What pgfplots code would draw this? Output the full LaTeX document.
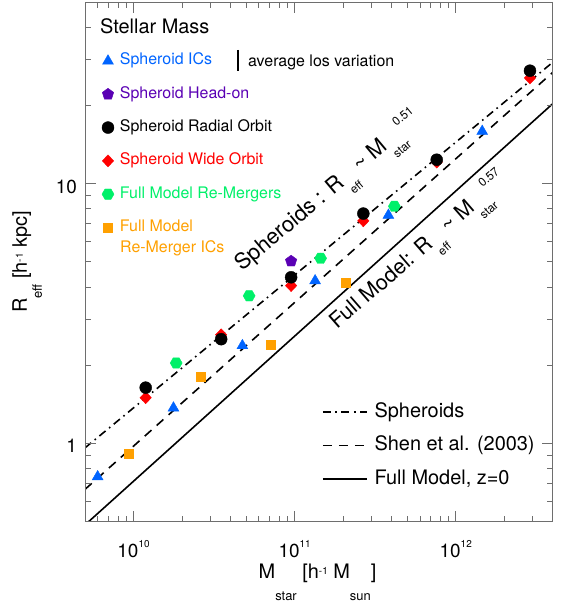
\documentclass[border=0pt]{standalone}
\usepackage{fontspec}
\setmainfont{TeX Gyre Heros}
\usepackage{pgfplots}
\pgfplotsset{compat=1.18}
\usetikzlibrary{plotmarks}

\definecolor{cBlue}{RGB}{0,100,255}
\definecolor{cPurple}{RGB}{90,0,180}
\definecolor{cRed}{RGB}{255,0,0}
\definecolor{cGreen}{RGB}{0,240,105}
\definecolor{cOrange}{RGB}{255,160,0}
\definecolor{cFrame}{RGB}{110,110,110}

\pgfdeclareplotmark{hexagon*}{%
  \pgfpathmoveto{\pgfqpointpolar{0}{\pgfplotmarksize}}%
  \pgfpathlineto{\pgfqpointpolar{60}{\pgfplotmarksize}}%
  \pgfpathlineto{\pgfqpointpolar{120}{\pgfplotmarksize}}%
  \pgfpathlineto{\pgfqpointpolar{180}{\pgfplotmarksize}}%
  \pgfpathlineto{\pgfqpointpolar{240}{\pgfplotmarksize}}%
  \pgfpathlineto{\pgfqpointpolar{300}{\pgfplotmarksize}}%
  \pgfpathclose\pgfusepathqfillstroke}
\pgfdeclareplotmark{rdiamond*}{%
  \pgfpathmoveto{\pgfqpoint{0pt}{\pgfplotmarksize}}%
  \pgfpathlineto{\pgfqpoint{0.95\pgfplotmarksize}{0pt}}%
  \pgfpathlineto{\pgfqpoint{0pt}{-\pgfplotmarksize}}%
  \pgfpathlineto{\pgfqpoint{-0.95\pgfplotmarksize}{0pt}}%
  \pgfpathclose\pgfusepathqfillstroke}

\newcommand\fsz[1]{\fontsize{#1}{#1}\selectfont}
% tick exponent
\newcommand\tsup[1]{\raisebox{10bp}{\fsz{10}#1}}
% axis-label sub/sup
\newcommand\xsub[1]{\raisebox{-22bp}{\fsz{13}#1}}
\newcommand\ysub[1]{\raisebox{-15bp}{\fsz{13}#1}}
\newcommand\lsup[1]{\raisebox{4bp}{\fsz{10}#1}}
% in-plot text sub/sup
\newcommand\rsub[1]{\raisebox{-13bp}{\fsz{12}#1}}
\newcommand\rsup[1]{\raisebox{12bp}{\fsz{12}#1}}

\begin{document}
\begin{tikzpicture}
\useasboundingbox (-85bp,-82.3bp) rectangle (481bp,521.7bp);

% ---------- relation lines (drawn first, below the markers) ----------
\begin{axis}[
  at={(0,0)}, anchor=south west, scale only axis,
  width=467.7bp, height=519.7bp,
  xmode=log, ymode=log,
  xmin=5e9, xmax=4e12, ymin=0.5, ymax=50,
  hide axis,
  legend cell align=left,
  legend image code/.code={\draw[#1] (0bp,0bp) -- (44bp,0bp);},
  legend style={draw=none, fill=none, at={(0.5067,0.2303)}, anchor=north west,
    inner sep=0pt, outer sep=0pt, row sep=13.5bp, column sep=7bp,
    font=\fsz{20},
    nodes={inner sep=0pt, text height=15bp, text depth=5bp}},
]
\addplot[black, line width=1.6bp, dash pattern=on 8bp off 4.5bp on 1.6bp off 4.5bp]
  coordinates {(5e9,0.962) (4e12,29.3)};
\addlegendentry{Spheroids}
\addplot[black, line width=1.6bp, dash pattern=on 9bp off 7bp]
  coordinates {(5e9,0.666) (4e12,26.8)};
\addlegendentry{Shen et al. (2003)}
\addplot[black, line width=1.6bp]
  coordinates {(5e9,0.486) (4e12,20.3)};
\addlegendentry{Full Model, z=0}
\end{axis}

% ---------- main axis with data markers ----------
\begin{axis}[
  at={(0,0)}, anchor=south west, scale only axis,
  width=467.7bp, height=519.7bp,
  xmode=log, ymode=log,
  xmin=5e9, xmax=4e12, ymin=0.5, ymax=50,
  axis line style={cFrame, line width=0.8bp},
  every tick/.style={cFrame, line width=0.8bp},
  tick align=inside,
  major tick length=11bp, minor tick length=6bp,
  xtick={1e10,1e11,1e12},
  xticklabels={10\tsup{10},10\tsup{11},10\tsup{12}},
  minor xtick={6e9,7e9,8e9,9e9,2e10,3e10,4e10,5e10,6e10,7e10,8e10,9e10,2e11,3e11,4e11,5e11,6e11,7e11,8e11,9e11,2e12,3e12,4e12},
  ytick={1,10},
  yticklabels={1,10},
  minor ytick={0.6,0.7,0.8,0.9,2,3,4,5,6,7,8,9,20,30,40},
  xticklabel style={anchor=base, yshift=-35.3bp, inner sep=0pt, font=\fsz{19}},
  yticklabel style={anchor=base east, xshift=-8bp, yshift=-9.5bp, inner sep=0pt, font=\fsz{19}},
  legend cell align=left,
  legend image code/.code={\draw[mark repeat=2,mark phase=2,#1] plot coordinates {(0bp,0bp) (6bp,0bp) (12bp,0bp)};},
  legend style={draw=none, fill=none, at={(0.0363,0.9019)}, anchor=north west,
    inner sep=0pt, outer sep=0pt, row sep=17.3bp, column sep=6bp,
    font=\fsz{16},
    nodes={inner sep=0pt, text height=12bp, text depth=4bp}},
]
\addplot[only marks, mark=triangle*, mark size=6.3bp, color=cBlue]
  coordinates {(5.99e9,0.745) (1.77e10,1.37) (4.74e10,2.38) (1.34e11,4.23) (3.82e11,7.56) (1.46e12,15.9)};
\addlegendentry{\textcolor{cBlue}{Spheroid ICs}}
\addplot[only marks, mark=pentagon*, mark size=6bp, color=cPurple]
  coordinates {(9.51e10,5.03)};
\addlegendentry{\textcolor{cPurple}{Spheroid Head-on}}
\addplot[only marks, mark=rdiamond*, mark size=6bp, color=cRed, forget plot]
  coordinates {(1.19e10,1.50) (3.50e10,2.62) (9.51e10,4.05) (2.67e11,7.19) (7.62e11,12.1) (2.89e12,25.5)};
\addplot[only marks, mark=*, mark size=6bp, color=black]
  coordinates {(1.19e10,1.64) (3.50e10,2.52) (9.51e10,4.36) (2.67e11,7.67) (7.62e11,12.36) (2.89e12,27.2)};
\addlegendentry{Spheroid Radial Orbit}
\addlegendimage{only marks, mark=rdiamond*, mark size=6bp, color=cRed}
\addlegendentry{\textcolor{cRed}{Spheroid Wide Orbit}}
\addplot[only marks, mark=hexagon*, mark size=6bp, color=cGreen]
  coordinates {(1.84e10,2.04) (5.22e10,3.70) (1.45e11,5.16) (4.16e11,8.18)};
\addlegendentry{\textcolor{cGreen}{Full Model Re-Mergers}}
\addplot[only marks, mark=square*, mark size=4.5bp, color=cOrange]
  coordinates {(9.27e9,0.916) (2.62e10,1.80) (7.11e10,2.40) (2.08e11,4.17)};
\addlegendentry{\textcolor{cOrange}{Full Model}}
\end{axis}

% ---------- texts ----------
\node[anchor=base west, inner sep=0pt, font=\fsz{20}] at (15bp,487.7bp) {Stellar Mass};
\draw[black, line width=1.8bp] (153bp,471.7bp) -- (153bp,450.7bp);
\node[anchor=base west, inner sep=0pt, font=\fsz{16}] at (163bp,454.7bp) {average los variation};
\node[anchor=base west, inner sep=0pt, font=\fsz{16}, text=cOrange] at (35bp,268.7bp) {Re-Merger ICs};

\node[rotate=40, anchor=base west, inner sep=0pt, font=\fsz{22}] at (157.5bp,250bp)
  {Spheroids : R\rsub{eff} \textasciitilde{} M\rsub{star}\rsup{0.51}};
\node[rotate=41, anchor=base west, inner sep=0pt, font=\fsz{21.5}] at (252.5bp,191.7bp)
  {Full Model: R\rsub{eff} \textasciitilde{} M\rsub{star}\rsup{0.57}};

\node[anchor=base, inner sep=0pt, font=\fsz{20}] at (232.5bp,-56.3bp)
  {M\xsub{star} [h\lsup{-1} M\xsub{sun}]};
\node[rotate=90, anchor=base, inner sep=0pt, font=\fsz{20}] at (-58bp,259.7bp)
  {R\ysub{eff} [h\lsup{-1} kpc]};
\end{tikzpicture}
\end{document}
